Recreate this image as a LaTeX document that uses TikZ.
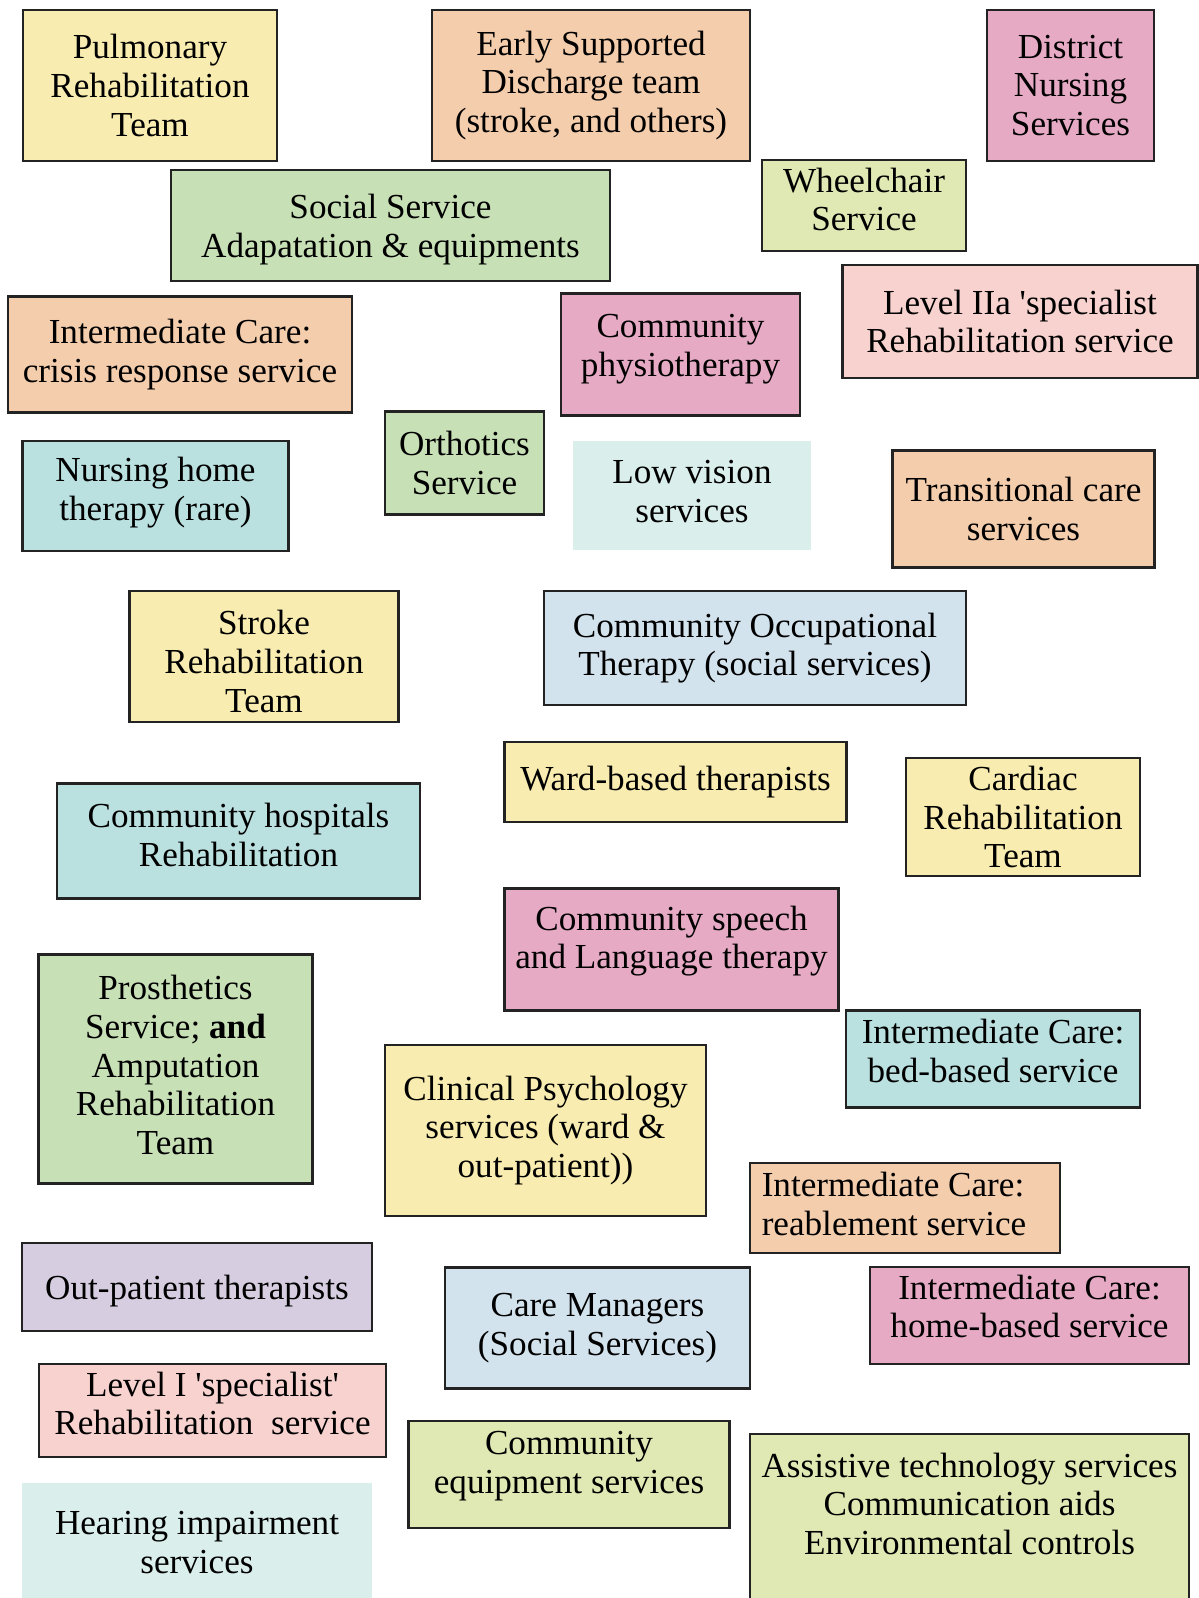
\documentclass[tikz,border=0pt]{standalone}
\usepackage{fontspec}
\setmainfont{Liberation Serif}
\usepackage{tikz}
\usetikzlibrary{positioning}
\definecolor{svcyellow}{RGB}{248,236,176}
\definecolor{svcpeach}{RGB}{244,205,173}
\definecolor{svcmauve}{RGB}{230,170,196}
\definecolor{svcgreen}{RGB}{200,224,182}
\definecolor{svclime}{RGB}{224,233,180}
\definecolor{svcpink}{RGB}{247,210,207}
\definecolor{svcteal}{RGB}{186,224,224}
\definecolor{svcpale}{RGB}{218,238,236}
\definecolor{svcblue}{RGB}{211,227,238}
\definecolor{svclilac}{RGB}{214,206,224}
\definecolor{svcline}{RGB}{35,35,35}

\begin{document}
\begin{tikzpicture}[
  box/.style={draw=svcline,line width=1.2pt,align=center,inner sep=2pt,
              font=\fontsize{20}{22}\selectfont},
  yellowbox/.style={box,fill=svcyellow},
  peachbox/.style={box,fill=svcpeach},
  mauvebox/.style={box,fill=svcmauve},
  greenbox/.style={box,fill=svcgreen},
  limebox/.style={box,fill=svclime},
  pinkbox/.style={box,fill=svcpink},
  tealbox/.style={box,fill=svcteal},
  bluebox/.style={box,fill=svcblue},
  lilacbox/.style={box,fill=svclilac},
  palebox/.style={box,draw=none,fill=svcpale},
  % move the text up inside a box of fixed size
  lift/.style={execute at end node={\rule[-#1]{0pt}{0pt}}}
]
  \useasboundingbox (0,0) rectangle (23.96,-31.96);

  % top rows
  \node[yellowbox, minimum width=5.09cm, minimum height=3.02cm] (pulm) at (3.00,-1.71) {Pulmonary\\Rehabilitation\\Team};
  \node[peachbox, minimum width=6.36cm, minimum height=3.02cm] (esd) at (11.82,-1.71) {Early Supported\\Discharge team\\(stroke, and others)};
  \node[mauvebox, minimum width=3.34cm, minimum height=3.02cm] (dnurse) at (21.41,-1.71) {District\\Nursing\\Services};
  \node[greenbox, minimum width=8.78cm, minimum height=2.22cm] (social) at (7.81,-4.51) {\rule{0pt}{18.4pt}Social Service\\Adapatation \& equipments};
  \node[limebox, lift=7pt, minimum width=4.07cm, minimum height=1.81cm] (wheel) at (17.28,-4.11) {Wheelchair\\Service};
  \node[peachbox, minimum width=6.87cm, minimum height=2.32cm] (crisis) at (3.60,-7.09) {Intermediate Care:\\crisis response service};
  \node[mauvebox, lift=10.2pt, minimum width=4.77cm, minimum height=2.44cm] (physio) at (13.61,-7.09) {Community\\physiotherapy};
  \node[pinkbox, minimum width=7.10cm, minimum height=2.26cm] (leveltwo) at (20.40,-6.43) {Level IIa \textquotesingle specialist\\Rehabilitation service};
  \node[greenbox, minimum width=3.18cm, minimum height=2.06cm] (orth) at (9.29,-9.26) {Orthotics\\Service};
  \node[palebox, lift=4.6pt, minimum width=4.75cm, minimum height=2.18cm] (lowvis) at (13.84,-9.91) {Low vision\\services};
  \node[tealbox, lift=7.9pt, minimum width=5.32cm, minimum height=2.20cm] (nhome) at (3.11,-9.92) {Nursing home\\therapy (rare)};
  \node[peachbox, minimum width=5.24cm, minimum height=2.34cm] (trans) at (20.47,-10.18) {Transitional care\\services};

  % middle
  \node[yellowbox, minimum width=5.38cm, minimum height=2.63cm] (stroke) at (5.28,-13.13) {\rule{0pt}{19.6pt}Stroke\\Rehabilitation\\Team};
  \node[bluebox, minimum width=8.43cm, minimum height=2.28cm] (commot) at (15.10,-12.96) {Community Occupational\\Therapy (social services)};
  \node[yellowbox, minimum width=6.84cm, minimum height=1.61cm] (ward) at (13.51,-15.64) {Ward-based therapists};
  \node[yellowbox, minimum width=4.69cm, minimum height=2.36cm] (cardiac) at (20.46,-16.34) {Cardiac\\Rehabilitation\\Team};
  \node[tealbox, lift=7pt, minimum width=7.25cm, minimum height=2.30cm] (chosp) at (4.77,-16.82) {Community hospitals\\Rehabilitation};
  \node[mauvebox, lift=13.7pt, minimum width=6.68cm, minimum height=2.44cm] (speech) at (13.43,-18.99) {Community speech\\and Language therapy};
  \node[greenbox, lift=4.6pt, minimum width=5.48cm, minimum height=4.58cm] (prosth) at (3.51,-21.38) {Prosthetics\\Service; \textbf{and}\\Amputation\\Rehabilitation\\Team};
  \node[yellowbox, minimum width=6.42cm, minimum height=3.42cm] (psych) at (10.91,-22.61) {Clinical Psychology\\services (ward \&\\out-patient))};
  \node[tealbox, lift=9.3pt, minimum width=5.87cm, minimum height=1.94cm] (icbed) at (19.86,-21.18) {Intermediate Care:\\bed-based service};

  % bottom rows
  \node[peachbox, lift=4.6pt, align=flush left, text width=5.73cm, inner xsep=0.24cm, minimum height=1.79cm] (icreab) at (18.10,-24.16) {Intermediate Care:\\reablement service};
  \node[lilacbox, minimum width=6.99cm, minimum height=1.77cm] (outpat) at (3.94,-25.74) {\rule{0pt}{18.4pt}Out-patient therapists};
  \node[bluebox, minimum width=6.09cm, minimum height=2.42cm] (caremgr) at (11.95,-26.56) {Care Managers\\(Social Services)};
  \node[mauvebox, lift=10.4pt, minimum width=6.38cm, minimum height=1.94cm] (ichome) at (20.59,-26.31) {Intermediate Care:\\home-based service};
  \node[pinkbox, lift=8.1pt, minimum width=6.95cm, minimum height=1.85cm] (levelone) at (4.25,-28.21) {Level I \textquotesingle specialist\textquotesingle\\Rehabilitation~ service};
  \node[limebox, lift=13.7pt, minimum width=6.42cm, minimum height=2.14cm] (commeq) at (11.38,-29.49) {Community\\equipment services};
  \node[limebox, lift=20.9pt, minimum width=8.78cm, minimum height=3.51cm] (assist) at (19.39,-30.44) {Assistive technology services\\Communication aids\\Environmental controls};
  \node[palebox, lift=4.6pt, minimum width=6.99cm, minimum height=2.54cm] (hearing) at (3.94,-30.93) {Hearing impairment\\services};
\end{tikzpicture}
\end{document}
